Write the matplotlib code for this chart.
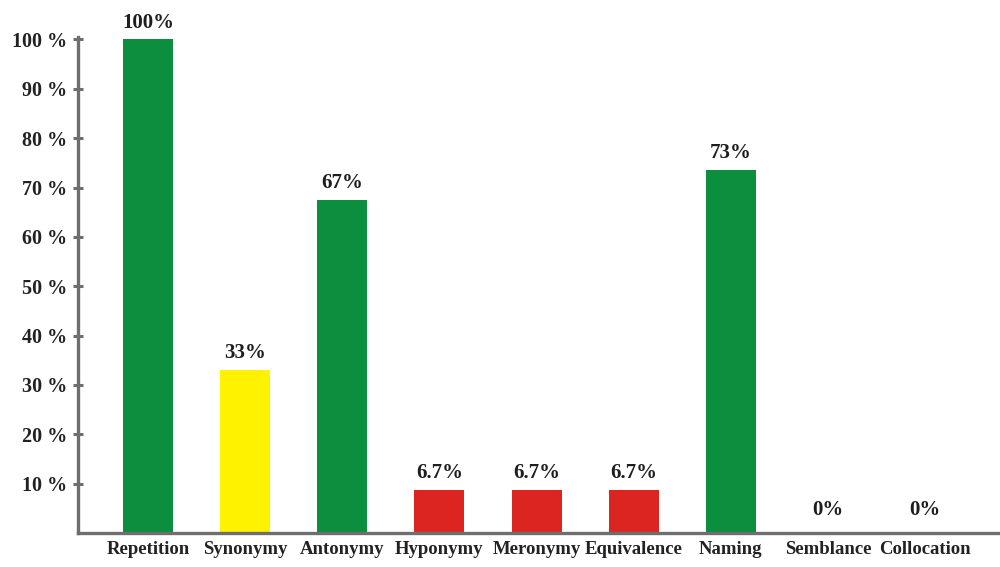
import matplotlib
matplotlib.use("Agg")
import matplotlib.pyplot as plt
import numpy as np

categories = ["Repetition", "Synonymy", "Antonymy", "Hyponymy", "Meronymy",
              "Equivalence", "Naming", "Semblance", "Collocation"]
bar_heights = [100, 33, 67.5, 8.7, 8.7, 8.7, 73.5, 0, 0]
value_labels = ["100%", "33%", "67%", "6.7%", "6.7%", "6.7%", "73%", "0%", "0%"]
bar_colors = ["#0b8f3e", "#fff200", "#0b8f3e", "#dc2520", "#dc2520",
              "#dc2520", "#0b8f3e", "#0b8f3e", "#0b8f3e"]
ytick_values = [10, 20, 30, 40, 50, 60, 70, 80, 90, 100]
ytick_labels = ["10 %", "20 %", "30 %", "40 %", "50 %", "60 %", "70 %", "80 %", "90 %", "100 %"]

plt.rcParams['font.family'] = ['Liberation Serif', 'DejaVu Serif']

fig = plt.figure(figsize=(10, 5.67), dpi=100)
ax = fig.add_axes([0.078, 0.06, 0.922, 0.94])

x = np.arange(len(categories))
ax.bar(x, bar_heights, width=0.515, color=bar_colors, zorder=2)

for xi, h, lab in zip(x, bar_heights, value_labels):
    off = 9 if h == 0 else 5
    ax.annotate(lab, (xi, h), xytext=(0, off), textcoords="offset points",
                ha="center", va="bottom", fontsize=15, fontweight="bold",
                color="#1e1e1e")

ax.set_xlim(-0.72, 8.77)
ax.set_ylim(0, 108)

axis_col = "#6e6e6e"
for s in ["top", "right"]:
    ax.spines[s].set_visible(False)
ax.spines["left"].set_bounds(0, 100.5)
ax.spines["left"].set_color(axis_col)
ax.spines["left"].set_linewidth(2.4)
ax.spines["bottom"].set_color(axis_col)
ax.spines["bottom"].set_linewidth(2.4)

ax.set_yticks(ytick_values)
ax.set_yticklabels(ytick_labels, fontsize=14.5, fontweight="bold", color="#222222")
ax.tick_params(axis="y", direction="inout", length=7, width=2.2, color=axis_col, pad=4)

ax.set_xticks(x)
ax.set_xticklabels(categories, fontsize=13.5, fontweight="bold", color="#222222")
ax.tick_params(axis="x", length=0, pad=6)

fig.savefig("out.png", dpi=100)
